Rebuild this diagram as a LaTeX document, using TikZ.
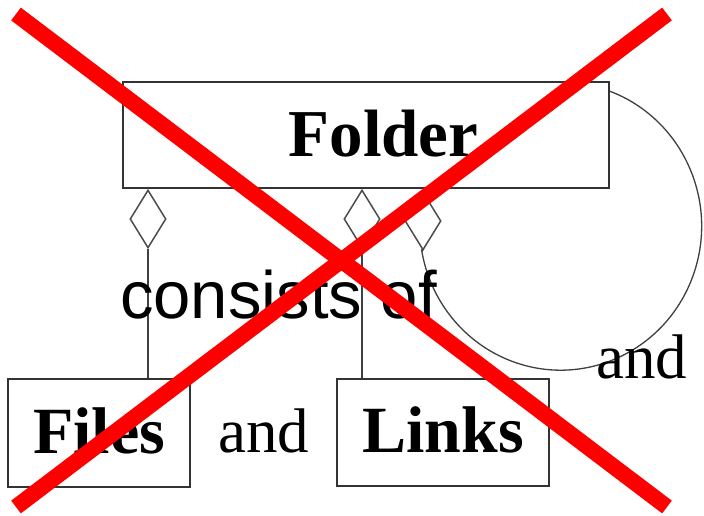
\documentclass[tikz,border=0pt]{standalone}
\usepackage{fontspec}
\setmainfont{Liberation Serif}
\setsansfont{Liberation Sans}
\usetikzlibrary{shapes.geometric,calc}

\tikzset{
  umlbox/.style={draw=black!80, line width=1.6pt, rectangle, inner sep=0pt,
    font=\bfseries\fontsize{66}{70}\selectfont, text height=45pt, text depth=5pt},
  boxtext/.style={inner sep=0pt, font=\bfseries\fontsize{67}{70}\selectfont},
  aggr/.style={diamond, draw=black!70, line width=1.5pt, fill=white, inner sep=0pt,
    minimum width=36pt, minimum height=58pt},
  link/.style={draw=black!75, line width=1.3pt},
  serifword/.style={inner sep=0pt, font=\fontsize{63}{70}\selectfont},
  sansword/.style={inner sep=0pt, font=\sffamily\fontsize{67}{70}\selectfont},
  crossout/.style={draw=red, line width=16pt, line cap=butt},
}

\begin{document}
\begin{tikzpicture}[x=1pt,y=-1pt]
  \useasboundingbox[fill=white] (0,0) rectangle (704,516);

  % classes
  \node[umlbox, minimum width=486pt, minimum height=106pt] (folder) at (366,135) {};
  \node[boxtext, anchor=base] (foldertext) at (383.5,157) {Folder};
  \node[umlbox, minimum width=182pt, minimum height=108pt] (files) at (99,433) {Files};
  \node[umlbox, minimum width=212pt, minimum height=107pt] (links) at (443,432.5) {Links};

  % aggregation diamonds
  \node[aggr] (d1) at (148,219) {};
  \node[aggr] (d2) at (362,219) {};
  \node[aggr] (d3) at (423,221) {};

  % aggregation lines
  \draw[link] (d1.south) -- (d1.south |- files.north);
  \draw[link] (d2.south) -- (d2.south |- links.north);

  % self-association loop of Folder
  \coordinate (loopstart) at ($(folder.north east)+(0,10)$);
  \draw[link] (loopstart) arc[start angle=-69.6, end angle=170.4, x radius=141, y radius=144]
    -- (d3.south);

  % labels
  \node[sansword, anchor=base west] (consists) at (120,318) {consists of};
  \node[serifword, anchor=base west] (and1) at (218,452) {and};
  \node[serifword, anchor=base west] (and2) at (596,378) {and};

  % red cross over the diagram
  \coordinate (xa) at (16,14);
  \coordinate (xb) at (667,507);
  \coordinate (xc) at (667,14);
  \coordinate (xd) at (16,507);
  \draw[crossout] (xa) -- (xb);
  \draw[crossout] (xc) -- (xd);
\end{tikzpicture}
\end{document}
